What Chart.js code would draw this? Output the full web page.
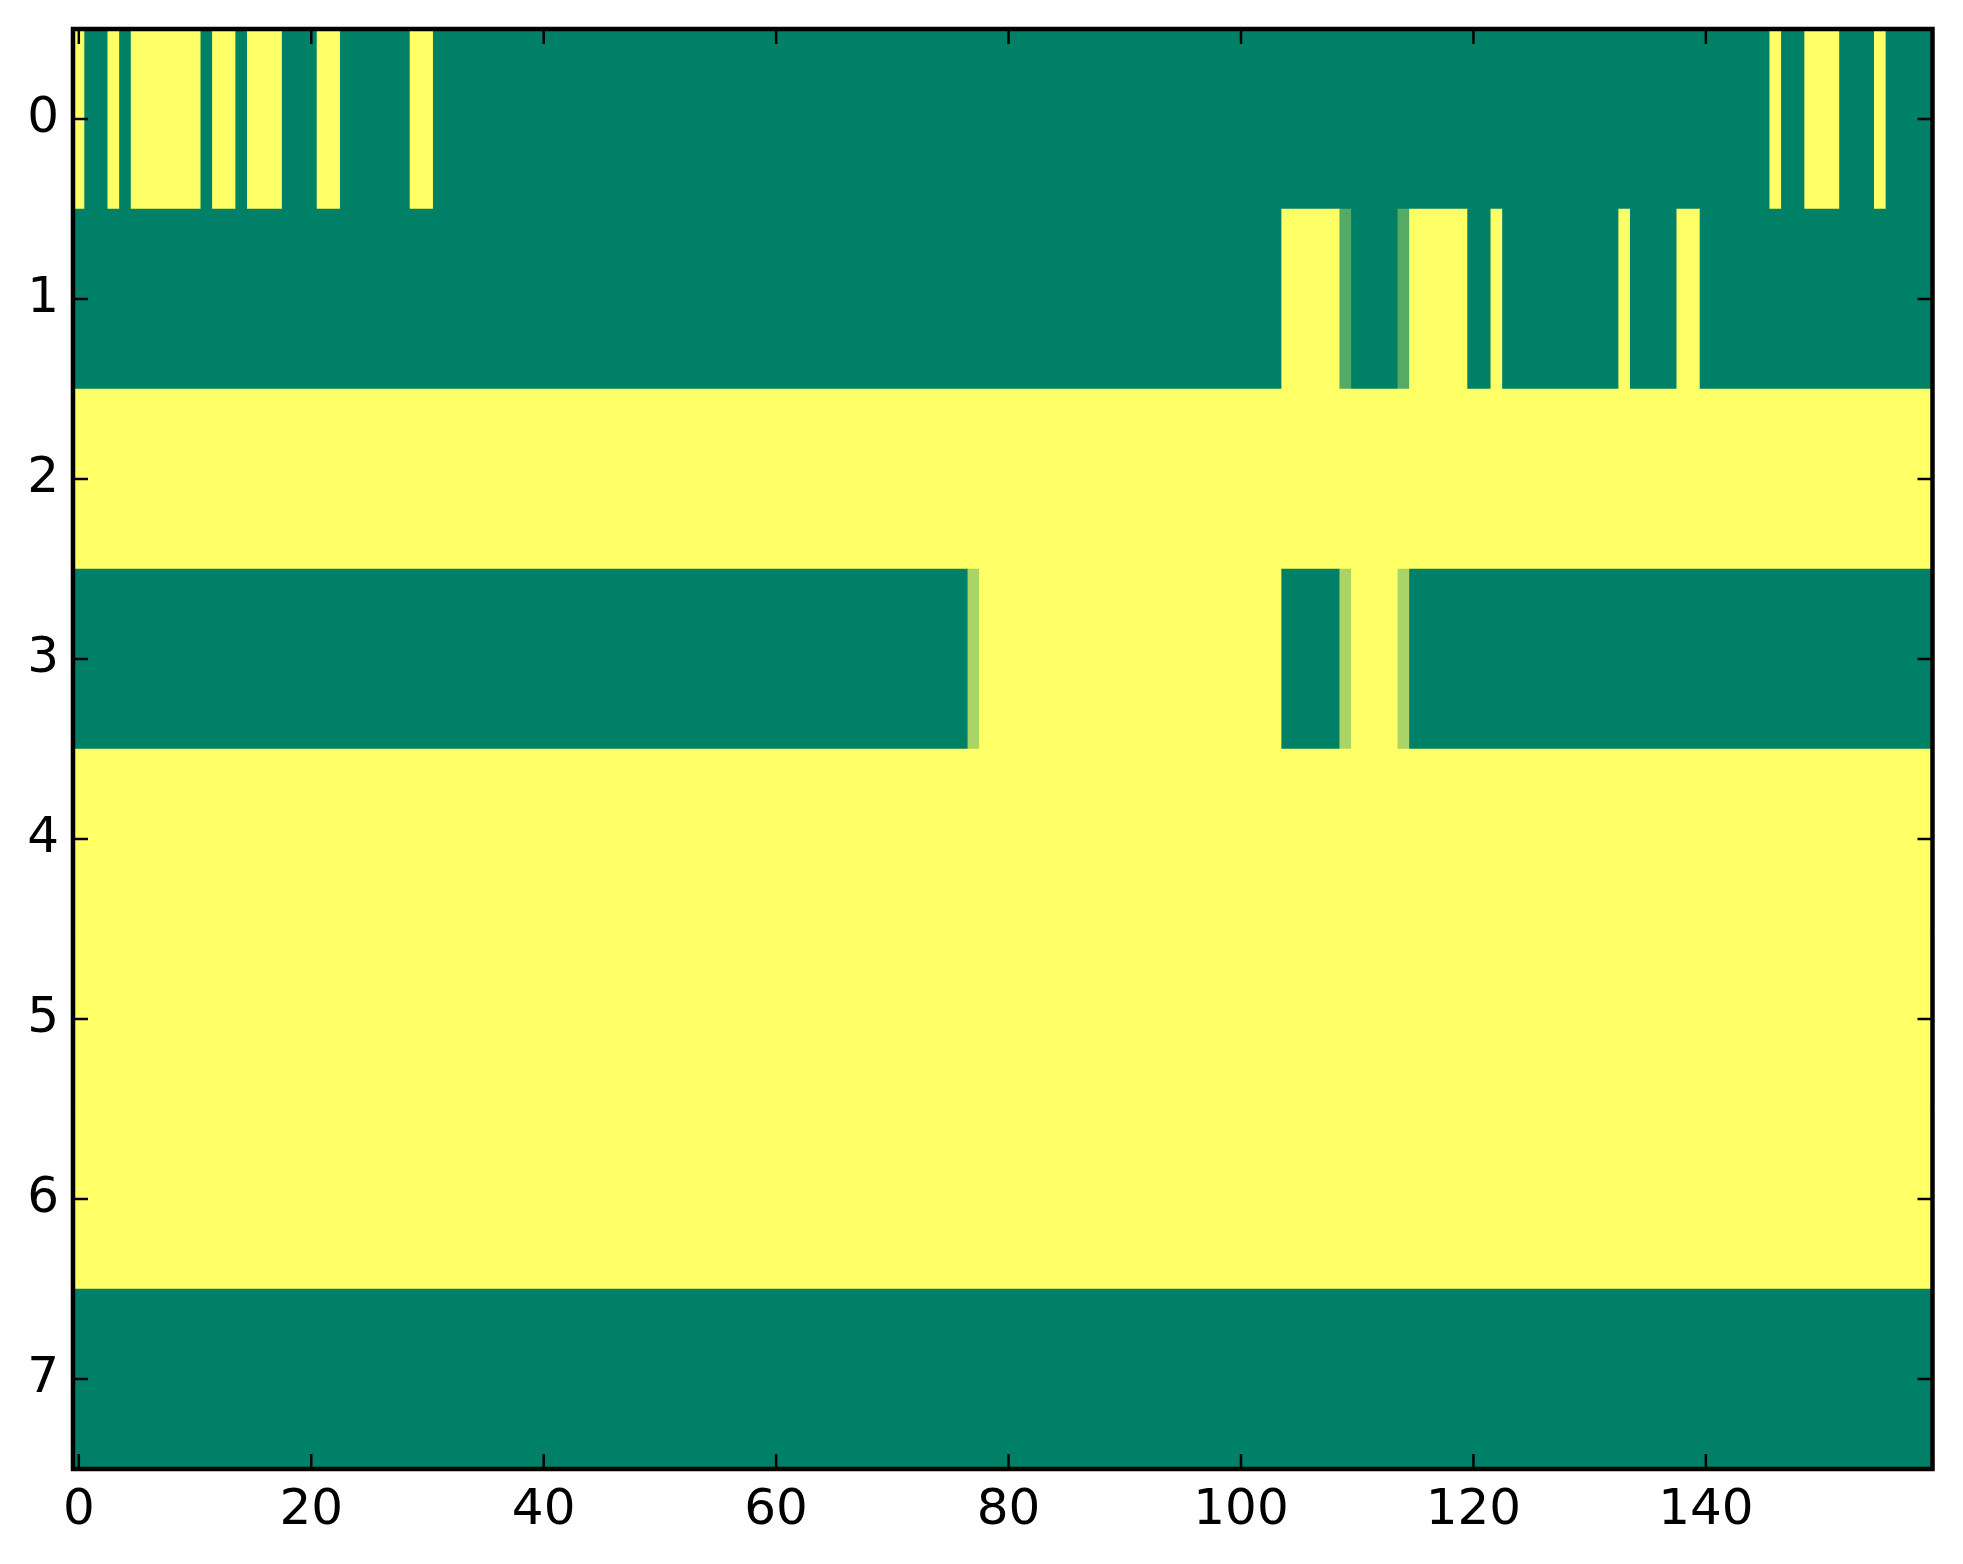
<!DOCTYPE html>
<html>
<head>
<meta charset="utf-8">
<title>Heatmap</title>
<script src="https://cdn.jsdelivr.net/npm/chart.js@4.4.1/dist/chart.umd.min.js"></script>
<style>
  html, body { margin: 0; padding: 0; background: #fff; }
  #wrap { width: 1963px; height: 1564px; }
</style>
</head>
<body>
<div id="wrap"><canvas id="heat" width="1963" height="1564"></canvas></div>
<script>
const nCols = 160;
const rowLabels = [0, 1, 2, 3, 4, 5, 6, 7];
const xTicks = [0, 20, 40, 60, 80, 100, 120, 140];

// each row as runs of [value, count], read left to right
const row0 = [[1, 1], [0, 2], [1, 1], [0, 1], [1, 6], [0, 1], [1, 2], [0, 1], [1, 3], [0, 3],
  [1, 2], [0, 6], [1, 2], [0, 115], [1, 1], [0, 2], [1, 3], [0, 3], [1, 1], [0, 4]];
const row1 = [[0, 104], [1, 5], [0.333, 1], [0, 4], [0.333, 1], [1, 5], [0, 2], [1, 1], [0, 10],
  [1, 1], [0, 4], [1, 2], [0, 20]];
const row2 = [[1, 160]];
const row3 = [[0, 77], [0.667, 1], [1, 26], [0, 5], [0.667, 1], [1, 4], [0.667, 1], [0, 45]];
const row4 = [[1, 160]];
const row5 = [[1, 160]];
const row6 = [[1, 160]];
const row7 = [[0, 160]];
const rows = [row0, row1, row2, row3, row4, row5, row6, row7];

// matplotlib "summer" colormap
function summer(v) {
  const r = Math.round(255 * v);
  const g = Math.round(127.5 + 127.5 * v);
  return `rgb(${r}, ${g}, 102)`;
}

// turn the runs into floating bars, one per run
const bars = [];
const colors = [];
rows.forEach((runs, r) => {
  let c = 0;
  runs.forEach(([v, n]) => {
    bars.push({ x: [c - 0.5, c + n - 0.5], y: rowLabels[r] });
    colors.push(summer(v));
    c += n;
  });
});

// ticks pointing inward on all four sides, plus the frame
const frameTicks = {
  id: 'frameTicks',
  afterDatasetsDraw(chart) {
    const { ctx, chartArea: a, scales } = chart;
    const x = scales.x;
    const y = scales.y;
    const len = 15;
    ctx.save();
    ctx.strokeStyle = '#000';
    ctx.lineWidth = 2.5;
    ctx.beginPath();
    x.ticks.forEach((t) => {
      const px = x.getPixelForValue(t.value);
      ctx.moveTo(px, a.bottom);
      ctx.lineTo(px, a.bottom - len);
      ctx.moveTo(px, a.top);
      ctx.lineTo(px, a.top + len);
    });
    y.ticks.forEach((t) => {
      const py = y.getPixelForValue(t.value);
      ctx.moveTo(a.left, py);
      ctx.lineTo(a.left + len, py);
      ctx.moveTo(a.right, py);
      ctx.lineTo(a.right - len, py);
    });
    ctx.stroke();
    ctx.lineWidth = 4.5;
    ctx.strokeRect(a.left, a.top, a.right - a.left, a.bottom - a.top);
    ctx.restore();
  },
};

const tickFont = { family: "'DejaVu Sans', sans-serif", size: 50 };

new Chart(document.getElementById('heat'), {
  type: 'bar',
  data: {
    datasets: [
      {
        data: bars,
        backgroundColor: colors,
        borderWidth: 0,
        barPercentage: 1,
        categoryPercentage: 1,
        grouped: false,
      },
    ],
  },
  options: {
    indexAxis: 'y',
    responsive: false,
    devicePixelRatio: 1,
    animation: false,
    layout: { padding: { top: 29, right: 30.5, left: 0, bottom: 0 } },
    plugins: {
      legend: { display: false },
      tooltip: { enabled: false },
    },
    scales: {
      x: {
        type: 'linear',
        position: 'bottom',
        min: -0.5,
        max: nCols - 0.5,
        offset: false,
        grid: { display: false, drawTicks: false },
        border: { display: false },
        ticks: { font: tickFont, color: '#000', padding: 12, maxRotation: 0, autoSkip: false },
        afterBuildTicks: (axis) => {
          axis.ticks = xTicks.map((v) => ({ value: v }));
        },
        afterFit: (axis) => {
          axis.height = 1564 - 1469;
          axis.paddingLeft = 0;
          axis.paddingRight = 0;
        },
      },
      y: {
        type: 'linear',
        reverse: true,
        min: -0.5,
        max: rowLabels.length - 0.5,
        offset: false,
        grid: { display: false, drawTicks: false },
        border: { display: false },
        ticks: { font: tickFont, color: '#000', padding: 14, autoSkip: false },
        afterBuildTicks: (axis) => {
          axis.ticks = rowLabels.map((v) => ({ value: v }));
        },
        afterFit: (axis) => {
          axis.width = 73;
          axis.paddingTop = 0;
          axis.paddingBottom = 0;
        },
      },
    },
  },
  plugins: [frameTicks],
});
</script>
</body>
</html>
